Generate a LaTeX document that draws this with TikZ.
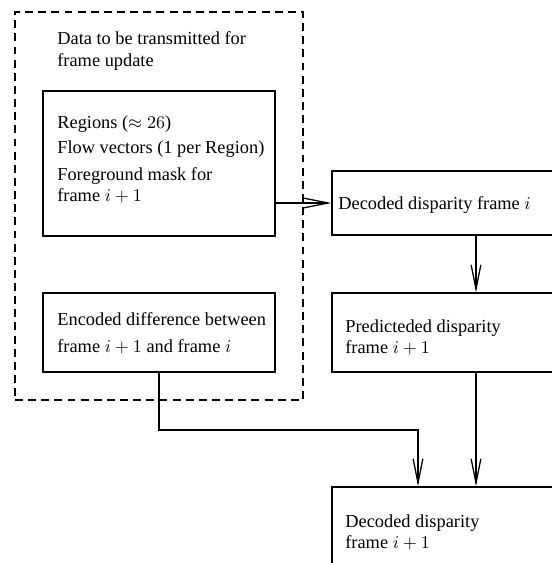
\documentclass[tikz,border=0pt]{standalone}
\usepackage{fontspec}
\setmainfont{Liberation Serif}
\usetikzlibrary{arrows.meta,fit,calc}
\tikzset{
  box/.style={draw, line width=0.7pt, inner sep=0pt, fit={#1}},
  grpbox/.style={draw, line width=0.6pt, dash pattern=on 4.4pt off 2.9pt, inner sep=0pt, fit={#1}},
  arr/.style={draw, line width=0.7pt, -{Straight Barb[length=13.5pt,width=5.4pt,line width=0.7pt]}},
  txt/.style={anchor=base west, inner sep=0pt, font=\fontsize{10.2}{12}\selectfont}
}
\begin{document}
\begin{tikzpicture}[x=0.5556pt, y=-0.5556pt]
\path[use as bounding box, clip] (0,0) rectangle (552,563);
\fill[white] (0,0) rectangle (552,563);
% group (dashed)
\node[grpbox={(15,12) (303,400)}] (grp) {};
\node[txt] (t0a) at (57,44) {Data to be transmitted for};
\node[txt] (t0b) at (57,66) {frame update};
% box 1
\node[box={(43,91) (275,236)}] (b1) {};
\node[txt] (t1a) at (57,128) {Regions ($\approx 26$)};
\node[txt] (t1b) at (57,153) {Flow vectors (1 per Region)};
\node[txt] (t1c) at (57,180) {Foreground mask for};
\node[txt] (t1d) at (57,201) {frame $i+1$};
% box 2
\node[box={(43,293) (275,372)}] (enc) {};
\node[txt] (t2a) at (57,325) {Encoded difference between};
\node[txt] (t2b) at (57,352) {frame $i+1$ and frame $i$};
% right column
\node[box={(332,171) (620,235)}] (dec) {};
\node[txt] (t3) at (338,209) {Decoded disparity frame $i$};
\node[box={(332,293) (620,372)}] (pred) {};
\node[txt] (t4a) at (345,332) {Predicteded disparity};
\node[txt] (t4b) at (345,353) {frame $i+1$};
\node[box={(332,487) (620,640)}] (fin) {};
\node[txt] (t5a) at (345,527) {Decoded disparity};
\node[txt] (t5b) at (345,548) {frame $i+1$};
% connectors
\draw[arr] (b1.east |- dec.west) -- (dec.west);
\draw[arr] (dec.south) -- (pred.north);
\draw[arr] (pred.south) -- (fin.north);
\coordinate (j) at (418,430);
\draw[arr] (enc.south) |- (j) -- (j |- fin.north);
\end{tikzpicture}
\end{document}
